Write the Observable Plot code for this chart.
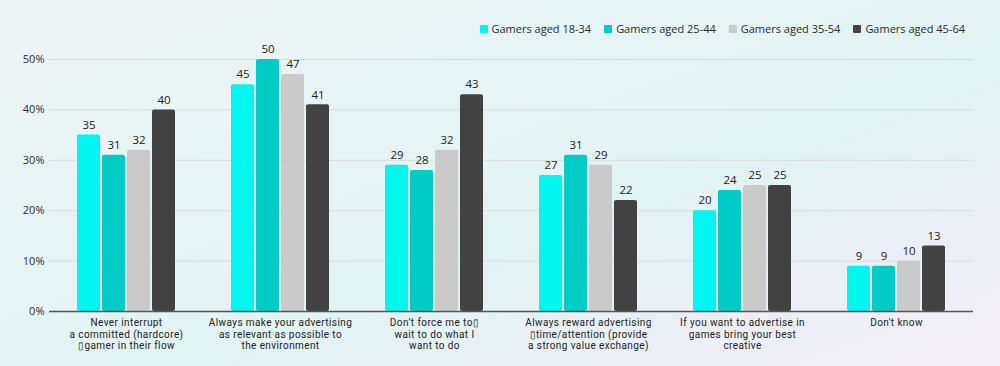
<!DOCTYPE html>
<html>
<head>
<meta charset="utf-8">
<script src="https://cdn.jsdelivr.net/npm/d3@7"></script>
<script src="https://cdn.jsdelivr.net/npm/@observablehq/plot@0.6"></script>
<style>
  html, body { margin: 0; padding: 0; }
  body {
    width: 1000px; height: 366px; overflow: hidden;
    background: linear-gradient(160deg, #f0f4f6 0%, #e6f4f5 35%, #e2f3f4 60%, #eeeef6 85%, #f3eef6 100%);
    font-family: "Open Sans", sans-serif;
  }
  #legend {
    height: 36px; box-sizing: border-box; padding-top: 21px; padding-right: 35px;
    display: flex; justify-content: flex-end; align-items: flex-start;
    font-size: 11px; color: #2b2b2b;
  }
  .item { display: flex; align-items: center; margin-left: 13px; line-height: 16px; }
  .sw { width: 8px; height: 8px; margin-right: 4px; border-radius: 1px; }
  .fxlabels text { letter-spacing: 0.4px; font-family: Roboto, sans-serif; }
</style>
</head>
<body>
<div id="legend"></div>
<div id="chart"></div>
<script>
const categories = [
  "Never interrupt\na committed (hardcore)\n\u25AFgamer in their flow",
  "Always make your advertising\nas relevant as possible to\nthe environment",
  "Don\u2019t force me to\u25AF\nwait to do what I\nwant to do",
  "Always reward advertising\n\u25AFtime/attention (provide\na strong value exchange)",
  "If you want to advertise in\ngames bring your best\ncreative",
  "Don't know"
];
const series = ["Gamers aged 18-34", "Gamers aged 25-44", "Gamers aged 35-54", "Gamers aged 45-64"];
const colors = ["#00f6ee", "#00ccc5", "#cacaca", "#424242"];
const values1834 = [35, 45, 29, 27, 20, 9];
const values2544 = [31, 50, 28, 31, 24, 9];
const values3554 = [32, 47, 32, 29, 25, 10];
const values4564 = [40, 41, 43, 22, 25, 13];
const yTicks = [0, 10, 20, 30, 40, 50];

const allValues = [values1834, values2544, values3554, values4564];
const data = [];
series.forEach((s, si) => categories.forEach((c, ci) => data.push({category: c, series: s, value: allValues[si][ci]})));

// legend
const legend = document.getElementById("legend");
series.forEach((s, i) => {
  const it = document.createElement("div");
  it.className = "item";
  it.innerHTML = `<span class="sw" style="background:${colors[i]}"></span><span>${s}</span>`;
  legend.appendChild(it);
});

const chart = Plot.plot({
  width: 1000,
  height: 330,
  marginTop: 23,
  marginBottom: 55,
  marginLeft: 48,
  marginRight: 27,
  style: {background: "transparent", fontFamily: "Open Sans, sans-serif", color: "#2b2b2b"},
  fx: {domain: categories, padding: 0, label: null},
  x: {domain: series, paddingInner: 0.1, paddingOuter: 1.114, axis: null},
  y: {domain: [0, 50], label: null},
  color: {domain: series, range: colors},
  marks: [
    Plot.gridY(yTicks, {stroke: "#d9dcdd", strokeOpacity: 1, strokeWidth: 1}),
    Plot.axisY(yTicks, {tickSize: 0, tickPadding: 5, fontSize: 11, tickFormat: d => d + "%", fill: "#2b2b2b"}),
    Plot.barY(data, {fx: "category", x: "series", y: "value", fill: "series", rx: 2}),
    Plot.text(data, {fx: "category", x: "series", y: "value", text: d => String(d.value), dy: -10, fontSize: 11.5, fill: "#222"}),
    Plot.ruleY([0], {stroke: "#555", strokeWidth: 1.5}),
    Plot.axisFx({anchor: "bottom", tickSize: 0, tickPadding: 6, fontSize: 10, lineHeight: 1.18, label: null, textAnchor: "middle", fill: "#222", className: "fxlabels"})
  ]
});
document.getElementById("chart").appendChild(chart);
</script>
</body>
</html>
